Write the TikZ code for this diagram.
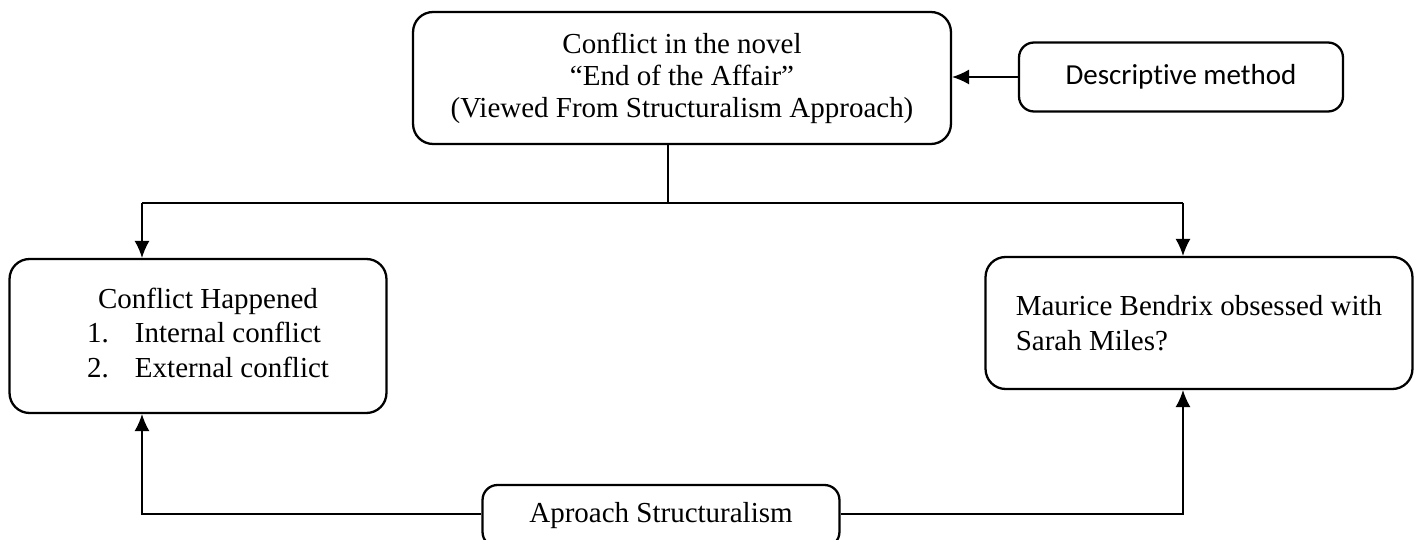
\documentclass[tikz,border=0pt]{standalone}
\usepackage{fontspec}
\setmainfont{Liberation Serif}
\newfontfamily\calibrifont[Ligatures=NoCommon]{Carlito}
\usetikzlibrary{arrows.meta,positioning}

\tikzset{
  box/.style={draw,rounded corners=0.4cm,line width=1.3pt,align=center,inner sep=0pt},
  arr/.style={-{Latex[length=0.34cm,width=0.3cm]},line width=0.8pt},
  link/.style={line width=0.6pt}
}

\begin{document}
\begin{tikzpicture}[x=0.02cm,y=-0.02cm,font=\fontsize{16.5}{19.8}\selectfont]
        \useasboundingbox (0,0) rectangle (1421,540);

        \node[box,minimum width=10.76cm,minimum height=2.64cm,font=\fontsize{16.5}{18.2}\selectfont](conflict)at(682,78){Conflict in the novel\\“End of the Affair”\\(Viewed From Structuralism Approach)};
        \node[box,rounded corners=0.3cm,minimum width=6.48cm,minimum height=1.38cm,font=\calibrifont\fontsize{16.5}{19.8}\selectfont](method)at(1181,77){Descriptive method};
        \node[box,minimum width=7.54cm,minimum height=3.08cm](happened)at(198,336){\hspace*{0.4cm}\raisebox{0.08cm}{\begin{tabular}{@{}p{0.96cm}@{}l@{}}\multicolumn{2}{c}{Conflict Happened}\\1.&Internal conflict\\2.&External conflict\end{tabular}}};
        \node[box,align=left,minimum width=8.54cm,minimum height=2.64cm](maurice)at(1199,323){Maurice Bendrix obsessed with\\Sarah Miles?};
        \node[box,rounded corners=0.3cm,minimum width=7.14cm,minimum height=1.24cm](aproach)at(661,516){Aproach Structuralism};

        \coordinate (split) at (668,203);
        \coordinate (lft) at (142,203);
        \coordinate (rgt) at (1183,203);

        \draw[arr](method.west)--(method.west -| conflict.east);
        \draw[link](conflict.south -| split)--(split);
        \draw[link](lft)--(rgt);
        \draw[arr](lft)--(lft |- happened.north);
        \draw[arr](rgt)--(rgt |- maurice.north);
        %\draw[arr](aproach)--(happened);
        \draw[arr]([yshift=0.04cm]aproach.west)-|(lft |- happened.south);
        \draw[arr]([yshift=0.04cm]aproach.east)-|(rgt |- maurice.south);
    \end{tikzpicture}
\end{document}
